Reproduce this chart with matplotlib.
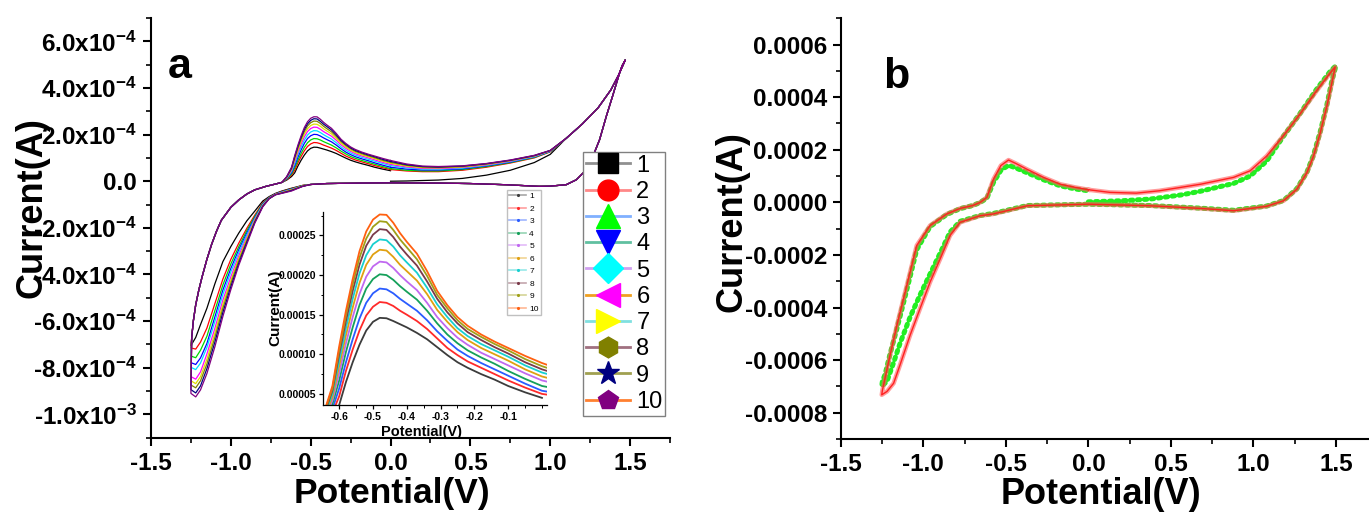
import matplotlib
matplotlib.use('Agg')
import matplotlib.pyplot as plt
from matplotlib.lines import Line2D
from matplotlib.ticker import MultipleLocator
from matplotlib.colors import to_rgba
import numpy as np

plt.rcParams['font.family'] = ['Liberation Sans', 'DejaVu Sans']
plt.rcParams['font.weight'] = 'bold'
plt.rcParams['mathtext.fontset'] = 'custom'
plt.rcParams['mathtext.rm'] = 'Liberation Sans:bold'
plt.rcParams['mathtext.it'] = 'Liberation Sans:bold'
plt.rcParams['mathtext.bf'] = 'Liberation Sans:bold'
plt.rcParams['mathtext.default'] = 'rm'
plt.rcParams['axes.unicode_minus'] = False

UNIT = 1e-4  # currents below are in units of 1e-4 A

# ---------------- panel a : 10 CV cycles ----------------
CYCLES = ['1', '2', '3', '4', '5', '6', '7', '8', '9', '10']

# first cycle starts at 0 V, 0 A
START_E = [0.0, 0.1, 0.2, 0.3, 0.45, 0.6, 0.75, 0.9, 1.0]
START_1 = [0.0, 0.01, 0.03, 0.05, 0.12, 0.26, 0.47, 0.80, 1.15]

# anodic branch 0 V -> 1.0 V for cycles 2..10
E_UP = [0.0, 0.1, 0.2, 0.3, 0.45, 0.6, 0.75, 0.9, 1.0]
UP_2 = [0.50, 0.44, 0.41, 0.41, 0.47, 0.60, 0.78, 1.00, 1.26]
UP_3 = [0.54, 0.47, 0.44, 0.44, 0.50, 0.63, 0.80, 1.02, 1.27]
UP_4 = [0.60, 0.52, 0.48, 0.48, 0.53, 0.66, 0.82, 1.04, 1.28]
UP_5 = [0.67, 0.57, 0.52, 0.51, 0.56, 0.68, 0.84, 1.05, 1.29]
UP_6 = [0.72, 0.61, 0.55, 0.54, 0.59, 0.70, 0.86, 1.07, 1.30]
UP_7 = [0.77, 0.65, 0.58, 0.57, 0.61, 0.72, 0.88, 1.08, 1.31]
UP_8 = [0.81, 0.68, 0.61, 0.59, 0.63, 0.74, 0.89, 1.09, 1.31]
UP_9 = [0.85, 0.71, 0.63, 0.61, 0.65, 0.75, 0.90, 1.10, 1.32]
UP_10 = [0.89, 0.74, 0.65, 0.63, 0.66, 0.76, 0.91, 1.11, 1.32]

# common anodic rise to the switching potential
E_RISE = [1.1, 1.2, 1.3, 1.38, 1.43, 1.47]
I_RISE = [1.84, 2.45, 3.15, 3.92, 4.58, 5.20]

# common reverse scan 1.45 V -> -0.5 V
E_REV = [1.45, 1.434, 1.39, 1.351, 1.309, 1.267, 1.226, 1.163, 1.10, 1.0, 0.93,
         0.72, 0.5, 0.3, 0.0, -0.2, -0.4, -0.5]
I_REV = [4.95, 4.64, 3.64, 2.78, 1.78, 1.06, 0.49, 0.06, -0.15, -0.21, -0.22,
         -0.15, -0.10, -0.08, -0.07, -0.08, -0.10, -0.14]

# cathodic branch -0.55 V -> -1.25 V
E_INNER = [-0.55, -0.62, -0.68, -0.72, -0.76, -0.80, -0.85, -0.90, -0.95, -1.00,
           -1.05, -1.10, -1.15, -1.19, -1.22, -1.25]
INNER_1 = [-0.18, -0.30, -0.42, -0.52, -0.66, -0.85, -1.28, -1.70, -2.22, -2.80, -3.45, -4.40, -5.45, -6.15, -6.70, -7.05]
INNER_2 = [-0.18, -0.32, -0.44, -0.54, -0.69, -0.92, -1.45, -2.02, -2.65, -3.35, -4.20, -5.25, -6.30, -6.90, -7.20, -7.15]
INNER_3 = [-0.19, -0.33, -0.45, -0.55, -0.70, -0.95, -1.51, -2.12, -2.80, -3.55, -4.45, -5.55, -6.65, -7.25, -7.57, -7.50]
INNER_4 = [-0.20, -0.34, -0.46, -0.55, -0.71, -0.98, -1.57, -2.22, -2.93, -3.74, -4.67, -5.82, -6.96, -7.58, -7.86, -7.78]
INNER_5 = [-0.20, -0.35, -0.47, -0.56, -0.72, -1.00, -1.61, -2.30, -3.05, -3.89, -4.86, -6.02, -7.13, -7.80, -8.08, -7.98]
INNER_6 = [-0.21, -0.36, -0.48, -0.56, -0.73, -1.03, -1.65, -2.40, -3.19, -4.10, -5.10, -6.31, -7.41, -8.18, -8.49, -8.38]
INNER_7 = [-0.21, -0.37, -0.49, -0.57, -0.74, -1.05, -1.69, -2.48, -3.31, -4.25, -5.28, -6.51, -7.64, -8.38, -8.68, -8.56]
INNER_8 = [-0.21, -0.38, -0.50, -0.57, -0.74, -1.06, -1.72, -2.55, -3.40, -4.38, -5.45, -6.70, -7.84, -8.56, -8.86, -8.74]
INNER_9 = [-0.22, -0.40, -0.51, -0.58, -0.75, -1.08, -1.76, -2.62, -3.51, -4.52, -5.63, -6.90, -8.04, -8.78, -9.08, -8.94]
INNER_10 = [-0.22, -0.42, -0.52, -0.58, -0.75, -1.10, -1.80, -2.70, -3.60, -4.65, -5.80, -7.10, -8.25, -8.95, -9.25, -9.10]

# common return branch -1.25 V -> -0.72 V
E_OUTER = [-1.245, -1.235, -1.22, -1.20, -1.18, -1.15, -1.12, -1.09, -1.06, -1.00,
           -0.95, -0.90, -0.85, -0.78, -0.72]
I_OUTER = [-6.70, -6.00, -5.30, -4.65, -4.10, -3.35, -2.70, -2.15, -1.68, -1.12,
           -0.80, -0.55, -0.37, -0.22, -0.12]

# oxidation peak region -0.68 V -> 0 V (also shown in the inset)
E_PEAK = [-0.68, -0.65, -0.62, -0.60, -0.58, -0.56, -0.54, -0.52, -0.50, -0.48,
          -0.46, -0.44, -0.42, -0.40, -0.37, -0.34, -0.31, -0.28, -0.25, -0.22,
          -0.18, -0.14, -0.10, -0.05, 0.0]
PEAK_1 = [-0.05, 0.05, 0.20, 0.36, 0.65, 0.90, 1.12, 1.30, 1.41, 1.46, 1.455, 1.42, 1.38, 1.34, 1.27, 1.19, 1.09, 0.99, 0.90, 0.83, 0.75, 0.68, 0.60, 0.52, 0.45]
PEAK_2 = [-0.05, 0.07, 0.26, 0.47, 0.79, 1.06, 1.30, 1.49, 1.60, 1.66, 1.65, 1.61, 1.55, 1.50, 1.42, 1.32, 1.20, 1.08, 0.99, 0.91, 0.83, 0.75, 0.67, 0.58, 0.50]
PEAK_3 = [-0.05, 0.09, 0.31, 0.57, 0.90, 1.19, 1.45, 1.65, 1.77, 1.83, 1.82, 1.77, 1.70, 1.64, 1.55, 1.43, 1.29, 1.17, 1.06, 0.98, 0.89, 0.81, 0.73, 0.63, 0.54]
PEAK_4 = [-0.05, 0.11, 0.37, 0.67, 1.03, 1.34, 1.62, 1.83, 1.95, 2.01, 2.00, 1.94, 1.86, 1.79, 1.69, 1.55, 1.39, 1.25, 1.14, 1.05, 0.96, 0.88, 0.79, 0.69, 0.60]
PEAK_5 = [-0.05, 0.13, 0.42, 0.76, 1.14, 1.47, 1.76, 1.98, 2.11, 2.17, 2.16, 2.09, 2.00, 1.92, 1.81, 1.65, 1.47, 1.33, 1.21, 1.12, 1.02, 0.94, 0.86, 0.76, 0.67]
PEAK_6 = [-0.05, 0.15, 0.46, 0.85, 1.24, 1.59, 1.90, 2.13, 2.26, 2.32, 2.31, 2.23, 2.13, 2.05, 1.93, 1.76, 1.56, 1.41, 1.28, 1.18, 1.08, 1.00, 0.92, 0.81, 0.72]
PEAK_7 = [-0.05, 0.16, 0.50, 0.92, 1.33, 1.70, 2.02, 2.25, 2.39, 2.45, 2.44, 2.36, 2.25, 2.16, 2.03, 1.84, 1.63, 1.47, 1.33, 1.23, 1.13, 1.05, 0.97, 0.86, 0.77]
PEAK_8 = [-0.05, 0.18, 0.54, 1.00, 1.42, 1.80, 2.13, 2.37, 2.51, 2.58, 2.57, 2.48, 2.36, 2.26, 2.12, 1.92, 1.70, 1.53, 1.39, 1.28, 1.18, 1.09, 1.01, 0.90, 0.81]
PEAK_9 = [-0.05, 0.19, 0.57, 1.05, 1.49, 1.88, 2.22, 2.46, 2.61, 2.68, 2.67, 2.57, 2.45, 2.35, 2.20, 1.99, 1.75, 1.58, 1.43, 1.32, 1.22, 1.13, 1.05, 0.94, 0.85]
PEAK_10 = [-0.05, 0.20, 0.60, 1.10, 1.55, 1.95, 2.30, 2.55, 2.70, 2.765, 2.76, 2.66, 2.53, 2.42, 2.27, 2.05, 1.80, 1.62, 1.47, 1.36, 1.25, 1.16, 1.08, 0.98, 0.89]

X_TICKS_A = [-1.5, -1.0, -0.5, 0.0, 0.5, 1.0, 1.5]
X_LABELS_A = ['-1.5', '-1.0', '-0.5', '0.0', '0.5', '1.0', '1.5']
Y_TICKS_A = [-10, -8, -6, -4, -2, 0, 2, 4, 6]
Y_LABELS_A = ['-1.0x10$^{-3}$', '-8.0x10$^{-4}$', '-6.0x10$^{-4}$', '-4.0x10$^{-4}$',
              '-2.0x10$^{-4}$', '0.0', '2.0x10$^{-4}$', '4.0x10$^{-4}$', '6.0x10$^{-4}$']

X_TICKS_IN = [-0.6, -0.5, -0.4, -0.3, -0.2, -0.1]
X_LABELS_IN = ['-0.6', '-0.5', '-0.4', '-0.3', '-0.2', '-0.1']
Y_TICKS_IN = [0.5, 1.0, 1.5, 2.0, 2.5]
Y_LABELS_IN = ['0.00005', '0.00010', '0.00015', '0.00020', '0.00025']

# ---------------- panel b : two CVs ----------------
B_START_E = [0.0, 0.2, 0.374, 0.56, 0.677, 0.88, 0.98, 1.08, 1.18, 1.28, 1.38, 1.465, 1.5]
B_START_GREEN = [0.02, 0.06, 0.125, 0.28, 0.42, 0.72, 1.00, 1.57, 2.50, 3.36, 4.28, 4.98, 5.20]

B_UP_E = [0.0, 0.13, 0.29, 0.43, 0.56, 0.68, 0.88, 0.98, 1.08, 1.18, 1.28, 1.38, 1.465, 1.495]
B_UP_RED = [0.48, 0.38, 0.35, 0.44, 0.57, 0.69, 0.95, 1.20, 1.76, 2.52, 3.34, 4.22, 4.92, 5.15]

B_REV_E = [1.475, 1.445, 1.405, 1.364, 1.324, 1.263, 1.182, 1.08, 0.88, 0.677, 0.374,
           0.0, -0.37, -0.575, -0.656, -0.777, -0.838, -0.898, -0.959, -1.02, -1.08,
           -1.141, -1.18, -1.22, -1.252]
B_REV_RED = [4.54, 3.66, 2.65, 1.76, 1.13, 0.50, 0.06, -0.15, -0.32, -0.23, -0.13,
             -0.07, -0.13, -0.44, -0.51, -0.76, -1.26, -2.15, -3.03, -4.04, -5.05,
             -6.18, -6.88, -7.19, -7.32]
B_REV_GREEN = [4.62, 3.72, 2.70, 1.80, 1.15, 0.52, 0.07, -0.14, -0.30, -0.22, -0.12,
               -0.07, -0.12, -0.42, -0.50, -0.72, -1.13, -1.93, -2.72, -3.52, -4.36,
               -5.36, -6.09, -6.80, -7.00]

B_OUT_E = [-1.248, -1.232, -1.201, -1.16, -1.12, -1.08, -1.04, -0.959, -0.858, -0.777,
           -0.70, -0.655, -0.615, -0.575, -0.53, -0.484, -0.44, -0.373, -0.272, -0.171,
           -0.08, 0.0]
B_OUT_RED = [-7.15, -6.69, -5.80, -4.67, -3.66, -2.65, -1.64, -0.88, -0.44, -0.23,
             -0.12, 0.0, 0.19, 0.88, 1.40, 1.61, 1.48, 1.26, 0.95, 0.69, 0.57, 0.48]
B_OUT_GREEN = [-6.80, -6.55, -5.75, -4.80, -3.82, -2.82, -1.80, -0.92, -0.46, -0.24,
               -0.12, 0.0, 0.16, 0.76, 1.22, 1.41, 1.31, 1.13, 0.86, 0.63, 0.51, 0.44]

X_TICKS_B = [-1.5, -1.0, -0.5, 0.0, 0.5, 1.0, 1.5]
X_LABELS_B = ['-1.5', '-1.0', '-0.5', '0.0', '0.5', '1.0', '1.5']
Y_TICKS_B = [-8, -6, -4, -2, 0, 2, 4, 6]
Y_LABELS_B = ['-0.0008', '-0.0006', '-0.0004', '-0.0002', '0.0000', '0.0002', '0.0004', '0.0006']

# ---------------- styles ----------------
MAIN_COLORS = ['#000000', '#ff0000', '#00d800', '#0000ff', '#00e0ff',
               '#ff00ff', '#e0e000', '#808000', '#000080', '#800080']
INSET_COLORS = ['#3c3c3c', '#ff2a2a', '#2a5cff', '#15a05a', '#c068f0',
                '#e0a010', '#18cfcf', '#7a3a4a', '#a0a018', '#ff6010']
LEG_LINE = ['#909090', '#ff8888', '#80b0ff', '#60c0a0', '#d0a0f0',
            '#f0a020', '#80e0e0', '#a07080', '#a0a050', '#ff8030']
LEG_MARK = ['#000000', '#ff0000', '#00ff00', '#0000ff', '#00ffff',
            '#ff00ff', '#ffff00', '#808000', '#000080', '#800080']
LEG_MARKERS = ['s', 'o', '^', 'v', 'D', '<', '>', 'h', '*', 'p']

UPS = [None, UP_2, UP_3, UP_4, UP_5, UP_6, UP_7, UP_8, UP_9, UP_10]
INNERS = [INNER_1, INNER_2, INNER_3, INNER_4, INNER_5, INNER_6, INNER_7, INNER_8, INNER_9, INNER_10]
PEAKS = [PEAK_1, PEAK_2, PEAK_3, PEAK_4, PEAK_5, PEAK_6, PEAK_7, PEAK_8, PEAK_9, PEAK_10]

W, H = 1369, 512
fig = plt.figure(figsize=(W / 100, H / 100), dpi=100)


def fx(px):
    return px / W


def fy(py):
    return 1 - py / H


axA = fig.add_axes([fx(151), fy(437.7), (670 - 151) / W, (437.7 - 18) / H])
axB = fig.add_axes([fx(840.8), fy(439), (W - 840.8) / W, (439 - 18.3) / H])
axI = fig.add_axes([fx(323.3), fy(405), (546.7 - 323.3) / W, (405 - 211.7) / H])


def style(ax, lw, maj, mnr, lsize, pad):
    for s in ('top', 'right'):
        ax.spines[s].set_visible(False)
    for s in ('left', 'bottom'):
        ax.spines[s].set_linewidth(lw)
    ax.tick_params(which='major', direction='out', length=maj, width=lw,
                   labelsize=lsize, pad=pad)
    ax.tick_params(which='minor', direction='out', length=mnr, width=lw * 0.8)
    ax.patch.set_alpha(0)


# ---- panel a main ----
for k in range(10):
    if k == 0:
        e = START_E + E_RISE
        i = START_1 + I_RISE
    else:
        e = E_UP + E_RISE
        i = UPS[k] + I_RISE
    e = e + E_REV + E_INNER + E_OUTER + E_PEAK
    i = i + I_REV + INNERS[k] + I_OUTER + PEAKS[k]
    axA.plot(e, np.array(i) * UNIT, color=MAIN_COLORS[k], lw=0.9)

style(axA, 1.5, 6, 3.5, 17.5, 4)
axA.set_xlim(-1.5, 1.75)
axA.set_ylim(-11.0 * UNIT, 7.0 * UNIT)
axA.set_xticks(X_TICKS_A, X_LABELS_A)
axA.set_yticks(np.array(Y_TICKS_A) * UNIT, Y_LABELS_A)
axA.xaxis.set_minor_locator(MultipleLocator(0.25))
axA.yaxis.set_minor_locator(MultipleLocator(1 * UNIT))
axA.set_xlabel('Potential(V)', fontsize=25.5, fontweight='bold')
axA.set_ylabel('Current(A)', fontsize=26, fontweight='bold')
axA.xaxis.set_label_coords(0.464, -0.134)
axA.xaxis.label.set_va('center')
axA.yaxis.set_label_coords(-0.229, 0.548)
axA.yaxis.label.set_va('center')

# ---- inset ----
for k in range(10):
    e = E_OUTER[-2:] + E_PEAK
    i = I_OUTER[-2:] + PEAKS[k]
    if k > 0:
        e = e + E_UP[1:2]
        i = i + UPS[k][1:2]
    axI.plot(e, np.array(i) * UNIT, color=INSET_COLORS[k], lw=1.3)
style(axI, 0.9, 3, 1.8, 7.5, 2)
axI.set_xlim(-0.647, 0.014)
axI.set_ylim(0.36 * UNIT, 2.8 * UNIT)
axI.set_xticks(X_TICKS_IN, X_LABELS_IN)
axI.set_yticks(np.array(Y_TICKS_IN) * UNIT, Y_LABELS_IN)
axI.xaxis.set_minor_locator(MultipleLocator(0.05))
axI.yaxis.set_minor_locator(MultipleLocator(0.25 * UNIT))
axI.set_xlabel('Potential(V)', fontsize=10.5, fontweight='bold')
axI.set_ylabel('Current(A)', fontsize=11, fontweight='bold')
axI.xaxis.set_label_coords(0.44, -0.14)
axI.xaxis.label.set_va('center')
axI.yaxis.set_label_coords(-0.216, 0.504)
axI.yaxis.label.set_va('center')

# ---- panel b ----
g_e = B_START_E + B_REV_E + B_OUT_E
g_i = np.array(B_START_GREEN + B_REV_GREEN + B_OUT_GREEN) * UNIT
r_e = B_UP_E + B_REV_E + B_OUT_E
r_i = np.array(B_UP_RED + B_REV_RED + B_OUT_RED) * UNIT
axB.plot(g_e, g_i, color='#33cc33', lw=0.8)
axB.plot(g_e, g_i, color='#22ee22', lw=3.6, linestyle=(0, (0.5, 0.9)),
         dash_capstyle='round')
axB.plot(r_e, r_i, color='#ff5a5a', lw=3.2, alpha=0.6)
axB.plot(r_e, r_i, color='#ff2020', lw=1.0)

style(axB, 1.5, 6, 3.5, 17.5, 4)
axB.set_xlim(-1.5, 1.70)
axB.set_ylim(-9.0 * UNIT, 7.0 * UNIT)
axB.set_xticks(X_TICKS_B, X_LABELS_B)
axB.set_yticks(np.array(Y_TICKS_B) * UNIT, Y_LABELS_B)
axB.xaxis.set_minor_locator(MultipleLocator(0.25))
axB.yaxis.set_minor_locator(MultipleLocator(1 * UNIT))
axB.set_xlabel('Potential(V)', fontsize=26, fontweight='bold')
axB.set_ylabel('Current(A)', fontsize=26, fontweight='bold')
axB.xaxis.set_label_coords(0.4926, -0.131)
axB.xaxis.label.set_va('center')
axB.yaxis.set_label_coords(-0.206, 0.518)
axB.yaxis.label.set_va('center')

# ---- legends ----
big_handles = [Line2D([], [], color=LEG_LINE[k], lw=2, marker=LEG_MARKERS[k],
                      markersize=17 if LEG_MARKERS[k] in ('^', 'v', '<', '>', '*') else 15,
                      markerfacecolor=LEG_MARK[k], markeredgecolor=LEG_MARK[k])
               for k in range(10)]
fig.legend(big_handles, CYCLES, loc='upper left',
           bbox_to_anchor=(fx(582.7), fy(151.7)), bbox_transform=fig.transFigure,
           frameon=True, fancybox=False, edgecolor='#808080', framealpha=1,
           prop={'family': 'Liberation Sans', 'weight': 'normal', 'size': 17},
           handlelength=1.9, handletextpad=0.25, borderpad=0.12, labelspacing=0.18,
           borderaxespad=0)

small_handles = [Line2D([], [], color=to_rgba(INSET_COLORS[k], 0.45), lw=1.2,
                        marker='.', markersize=2.5,
                        markerfacecolor=INSET_COLORS[k], markeredgecolor=INSET_COLORS[k])
                 for k in range(10)]
fig.legend(small_handles, CYCLES, loc='upper left',
           bbox_to_anchor=(fx(506.7), fy(190)), bbox_transform=fig.transFigure,
           frameon=True, fancybox=False, edgecolor='#c0c0c0', framealpha=1,
           prop={'family': 'Liberation Sans', 'weight': 'normal', 'size': 6},
           handlelength=2.0, handletextpad=0.4, borderpad=0.3, labelspacing=0.56,
           borderaxespad=0)

# panel letters
fig.text(fx(180), fy(78), 'a', fontsize=31, fontweight='bold', ha='center', va='baseline')
fig.text(fx(896), fy(88), 'b', fontsize=31, fontweight='bold', ha='center', va='baseline')

fig.savefig('out.png', dpi=100)
